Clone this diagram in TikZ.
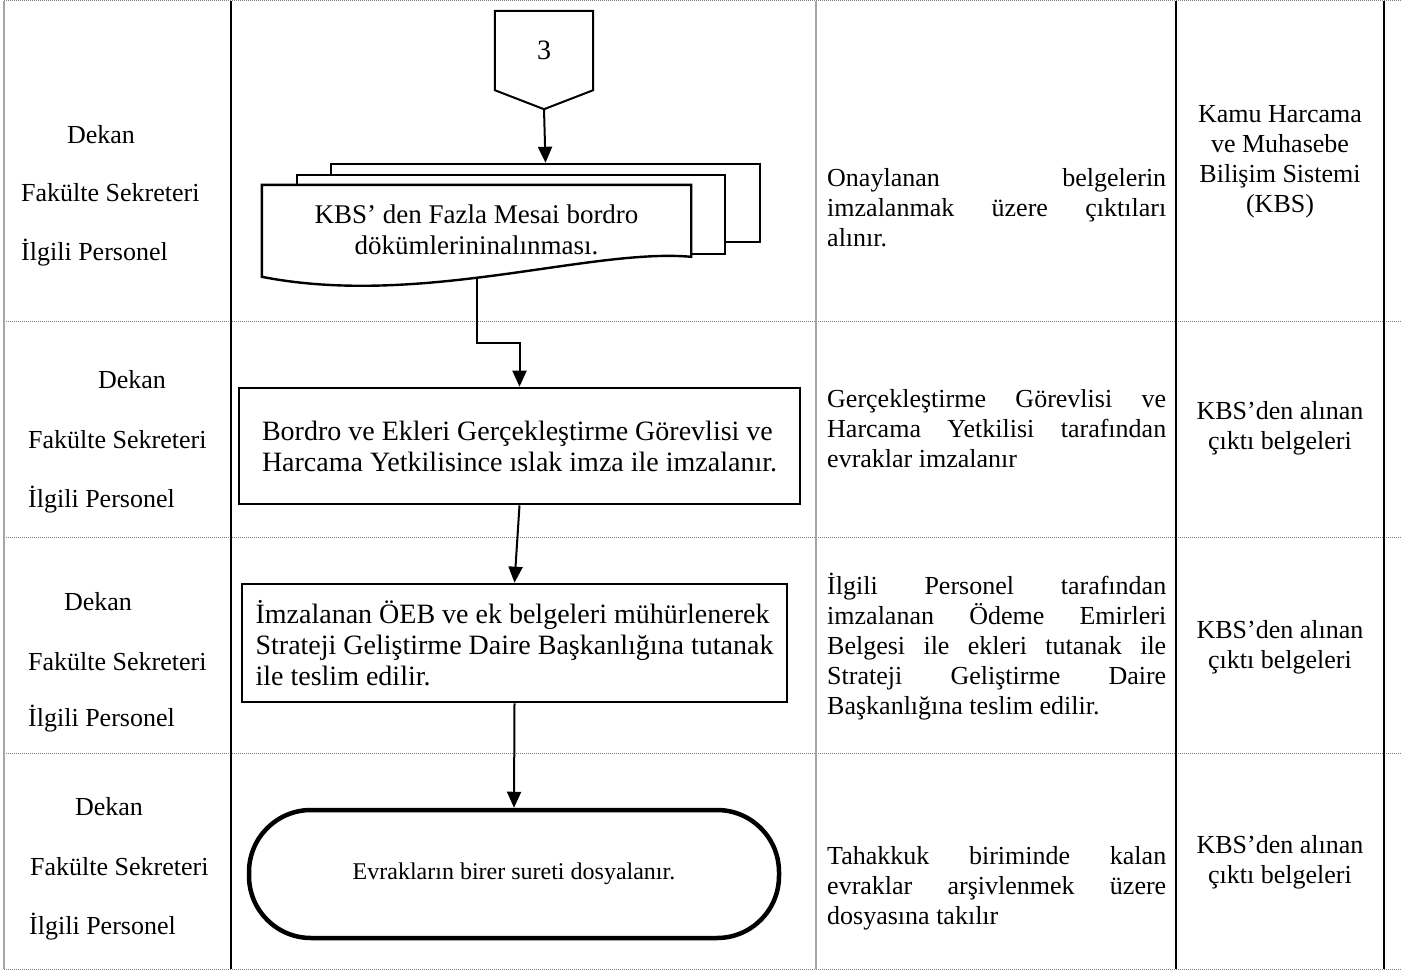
\documentclass[tikz,border=0pt]{standalone}
\usepackage{fontspec}
\setmainfont{Liberation Serif}
\usetikzlibrary{arrows.meta,calc,positioning,backgrounds}

\begin{document}
\hyphenpenalty=10000
\tolerance=10000
\begin{tikzpicture}[
    x=1pt, y=-1pt,
    font=\fontsize{26}{30}\selectfont,
    grid/.style={line width=1.8pt},
    greygrid/.style={line width=1.5pt, gray!70},
    rowline/.style={line width=1pt, gray, dash pattern=on 1pt off 1pt},
    lbl/.style={inner sep=0pt},
    note/.style={inner sep=0pt, text width=339pt, align=justify, anchor=west},
    src/.style={inner sep=0pt, align=center},
    box/.style={rectangle, draw, line width=2.6pt, inner sep=0pt, align=left, font=\fontsize{28}{31}\selectfont},
    doc/.style={rectangle, draw, fill=white, line width=2.4pt},
    arrow/.style={-{Triangle[length=16pt,width=14pt]}, line width=2pt}
]
\useasboundingbox (0,0) rectangle (1402,971);

% Table
\draw[rowline] foreach \y in {1,321,537,753,969} {(4,\y) -- (1402,\y)};
\draw[greygrid] (4,1) -- (4,969) (816,1) -- (816,969);
\draw[grid] (231,1) -- (231,969) (1176,1) -- (1176,969) (1384,1) -- (1384,969);

% Responsible persons
\foreach \r/\xd/\yd/\xf/\yf/\xi/\yi in {1/101/143/21/201/21/260, 2/132/388/28/448/28/507, 3/98/610/28/670/28/726, 4/109/815/30/875/29/934} {
  \node[lbl, anchor=base] (dekan\r) at (\xd,\yd) {Dekan};
  \node[lbl, anchor=base west] (fak\r) at (\xf,\yf) {Fakülte Sekreteri};
  \node[lbl, anchor=base west] (ilgili\r) at (\xi,\yi) {İlgili Personel};
}

% Flow
\node[minimum width=98pt, minimum height=79pt, inner sep=0pt, font=\fontsize{28}{31}\selectfont] (conn) at (544,50.5) {3};
\coordinate (conntip) at ($(conn.south)+(0,19)$);
\draw[line width=2pt] (conn.north west) -- (conn.north east) -- (conn.south east) -- (conntip) -- (conn.south west) -- cycle;

\node[minimum width=429pt, minimum height=90pt, inner sep=0pt, align=center, font=\fontsize{27}{31}\selectfont] (docfront) at (476.5,230) {KBS’ den Fazla Mesai bordro\\dökümlerininalınması.};
\coordinate (docout) at ($(docfront.south)+(0,4)$);
\begin{scope}[on background layer]
  \node[doc, minimum width=429pt, minimum height=78pt] (docback) at (545.5,203) {};
  \node[doc, minimum width=428pt, minimum height=79pt] (docmid) at (511,214.5) {};
  \draw[fill=white, line width=2.4pt] (docfront.north west) -- (docfront.north east) -- ($(docfront.north east)+(0,72)$)
    .. controls ($(docfront.north east)+(-101,63)$) and ($(docfront.north west)+(158,123)$) .. ($(docfront.north west)+(0,92)$) -- cycle;
\end{scope}

\node[box, minimum width=561pt, minimum height=116pt] (bordro) at (519.5,446) {Bordro ve Ekleri Gerçekleştirme Görevlisi ve\\Harcama Yetkilisince ıslak imza ile imzalanır.};
\node[box, minimum width=545pt, minimum height=118pt] (teslim) at (514.5,643) {İmzalanan ÖEB ve ek belgeleri mühürlenerek\\Strateji Geliştirme Daire Başkanlığına tutanak\\ile teslim edilir.};
\node[draw, rounded corners=62pt, line width=4.5pt, minimum width=530pt, minimum height=128pt, font=\fontsize{24}{28}\selectfont] (evrak) at (514,874) {Evrakların birer sureti dosyalanır.};

\draw[arrow] (conntip) -- (docback.north);
\draw[arrow] (docout) -- ++(0,64) -| (bordro.north);
\draw[arrow] (bordro.south) -- (teslim.north);
\draw[arrow] (teslim.south) -- (evrak.north);

% Explanations
\node[note] (aciklama1) at (827,208) {Onaylanan belgelerin\linebreak imzalanmak üzere çıktıları\linebreak alınır.};
\node[note] (aciklama2) at (827,429) {Gerçekleştirme Görevlisi ve\linebreak Harcama Yetkilisi tarafından\linebreak evraklar imzalanır};
\node[note] (aciklama3) at (827,647) {İlgili Personel tarafından\linebreak imzalanan Ödeme Emirleri\linebreak Belgesi ile ekleri tutanak ile\linebreak Strateji Geliştirme Daire\linebreak Başkanlığına teslim edilir.};
\node[note] (aciklama4) at (827,888) {Tahakkuk biriminde kalan\linebreak evraklar arşivlenmek üzere\linebreak dosyasına takılır};

% Documents / sources
\node[src] (kaynak1) at (1280,162) {Kamu Harcama\\ve Muhasebe\\Bilişim Sistemi\\(KBS)};
\node[src] (kaynak2) at (1280,428) {KBS’den alınan\\çıktı belgeleri};
\node[src] (kaynak3) at (1280,647) {KBS’den alınan\\çıktı belgeleri};
\node[src] (kaynak4) at (1280,862) {KBS’den alınan\\çıktı belgeleri};

\end{tikzpicture}
\end{document}
